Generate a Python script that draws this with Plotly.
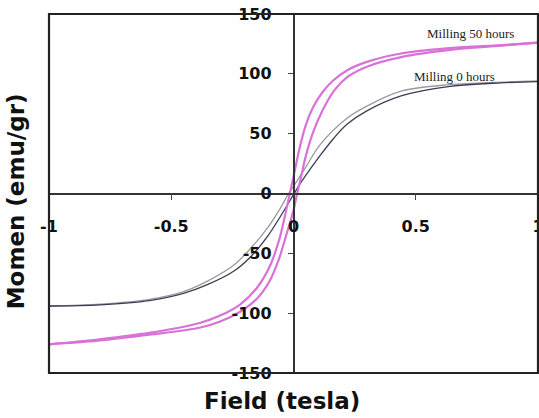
import plotly.graph_objects as go

# Field (tesla) / Moment (emu/gr) readings, hysteresis branches
pink_desc_H = [1.0, 0.85, 0.64, 0.44, 0.30, 0.22, 0.16, 0.12, 0.08, 0.05, 0.025, 0.0, -0.015, -0.03, -0.055, -0.095, -0.15, -0.22, -0.30, -0.38, -0.59, -0.80, -1.0]
pink_desc_M = [126, 124, 121.5, 117, 110, 103, 94, 85, 72, 57, 38, 14, 0, -14, -36, -60, -79, -93, -102, -108, -116.5, -122, -126]

pink_asc_H = [-1.0, -0.80, -0.59, -0.38, -0.30, -0.22, -0.15, -0.10, -0.06, -0.03, 0.0, 0.015, 0.03, 0.05, 0.08, 0.12, 0.17, 0.225, 0.30, 0.44, 0.64, 0.85, 1.0]
pink_asc_M = [-126, -123, -118, -112, -107, -99, -88, -74, -55, -35, -14, 0, 13, 31, 51, 70, 87, 98, 106, 114, 120, 123.5, 126]

gray_asc_H = [-1.0, -0.79, -0.59, -0.45, -0.35, -0.245, -0.176, -0.107, -0.053, -0.012, 0.0, 0.03, 0.11, 0.164, 0.22, 0.30, 0.44, 0.64, 0.85, 1.0]
gray_asc_M = [-94, -93, -89.5, -83.5, -76, -65, -53, -36, -19, -5, -1, 9, 32, 46, 58, 69, 81.5, 89.5, 92.5, 93.5]

gray_desc_H = [1.0, 0.85, 0.64, 0.44, 0.30, 0.22, 0.11, 0.05, 0.0, -0.02, -0.053, -0.107, -0.176, -0.245, -0.35, -0.45, -0.59, -0.79, -1.0]
gray_desc_M = [94, 93, 91, 85.5, 73, 63, 41, 22, 6, 0, -12, -29, -46, -60, -73, -82, -88.5, -92.5, -94]

x_ticks = [-1, -0.5, 0, 0.5, 1]
x_ticklabels = ["-1", "-0.5", "0", "0.5", "1"]
y_ticks = [-150, -100, -50, 0, 50, 100, 150]
y_ticklabels = ["-150", "-100", "-50", "0", "50", "100", "150"]

labels = ["Milling 50 hours", "Milling 0 hours"]
label_x = [0.725, 0.658]
label_y = [134, 98]

fig = go.Figure()
fig.add_trace(go.Scatter(x=gray_desc_H, y=gray_desc_M, mode="lines", line=dict(color="#9a9a9a", width=1.3, shape="spline"), showlegend=False))
fig.add_trace(go.Scatter(x=gray_asc_H, y=gray_asc_M, mode="lines", line=dict(color="#3c3c58", width=1.3, shape="spline"), showlegend=False))
fig.add_trace(go.Scatter(x=pink_desc_H, y=pink_desc_M, mode="lines", line=dict(color="#d872d8", width=2.2, shape="spline"), showlegend=False))
fig.add_trace(go.Scatter(x=pink_asc_H, y=pink_asc_M, mode="lines", line=dict(color="#d872d8", width=2.2, shape="spline"), showlegend=False))

tickfont = dict(family="DejaVu Sans", size=16, color="#111", weight="bold")
fig.update_layout(
    width=539, height=418,
    margin=dict(l=49, r=1, t=14, b=45, autoexpand=False),
    plot_bgcolor="white", paper_bgcolor="white",
    xaxis=dict(range=[-1, 1], anchor="free", position=0.5, showgrid=False, zeroline=False,
               showline=True, linecolor="#333", linewidth=1.5, automargin=False,
               tickvals=x_ticks, ticktext=x_ticklabels, ticks="outside", ticklen=6, tickwidth=1.2,
               tickcolor="#444", tickfont=tickfont, ticklabelstandoff=13, ticklabeloverflow="allow"),
    yaxis=dict(range=[-150, 150], anchor="free", position=0.5, showgrid=False, zeroline=False,
               showline=True, linecolor="#333", linewidth=1.5, automargin=False,
               tickvals=y_ticks, ticktext=y_ticklabels, ticks="outside", ticklen=5, tickwidth=1.2,
               tickcolor="#444", tickfont=tickfont, ticklabelstandoff=13, ticklabeloverflow="allow"),
    shapes=[dict(type="rect", xref="paper", yref="paper", x0=0, x1=1, y0=0, y1=1,
                 line=dict(color="#222", width=2.2), layer="above")],
)

for t, xx, yy in zip(labels, label_x, label_y):
    fig.add_annotation(x=xx, y=yy, text=t, showarrow=False, xanchor="center", yanchor="middle",
                       font=dict(family="Liberation Serif", size=13, color="#222"))

fig.add_annotation(xref="paper", yref="paper", x=0.476, y=-0.078, text="Field (tesla)", showarrow=False,
                   xanchor="center", yanchor="middle",
                   font=dict(family="DejaVu Sans", size=23, color="#111", weight="bold"))
fig.add_annotation(xref="paper", yref="paper", x=-0.067, y=0.479, text="Momen (emu/gr)", showarrow=False,
                   textangle=-90, xanchor="center", yanchor="middle",
                   font=dict(family="DejaVu Sans", size=23, color="#111", weight="bold"))

fig.write_html("out.html")
